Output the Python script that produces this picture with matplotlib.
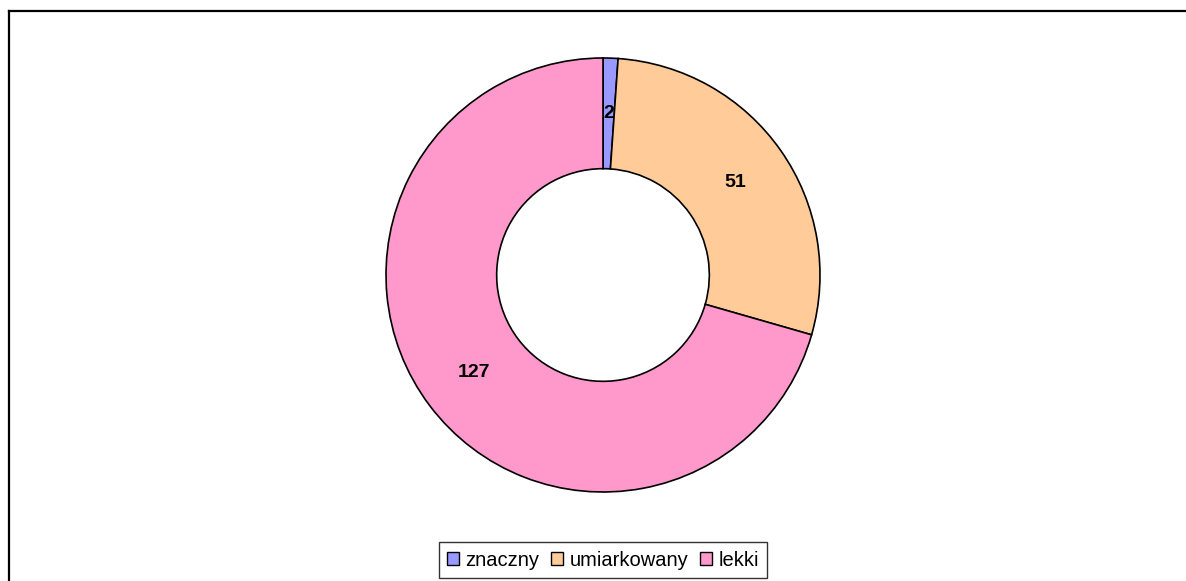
import matplotlib
matplotlib.use("Agg")
import matplotlib.pyplot as plt
from matplotlib.lines import Line2D
from matplotlib.patches import Patch
import math

plt.rcParams['font.family'] = ['Liberation Sans', 'DejaVu Sans']

categories = ["znaczny", "umiarkowany", "lekki"]
values = [2, 51, 127]
colors = ["#9999FF", "#FFCC99", "#FF99CC"]

W, H = 1186, 581
fig = plt.figure(figsize=(W / 100, H / 100), dpi=100)

cx, cy, r = 603, 275, 217
ax = fig.add_axes([(cx - r) / W, (H - cy - r) / H, 2 * r / W, 2 * r / H])
wedges, texts = ax.pie(values, colors=colors, startangle=90, counterclock=False,
                       radius=1, wedgeprops=dict(width=0.51, edgecolor="black", linewidth=1.2),
                       labels=[str(v) for v in values], labeldistance=None)
total = sum(values)
ang = 90.0
for v in values:
    span = 360.0 * v / total
    mid = math.radians(ang - span / 2)
    ax.text(0.745 * math.cos(mid), 0.745 * math.sin(mid), str(v), ha="center", va="center",
            fontsize=14, fontweight="bold", color="black")
    ang -= span
ax.set_xlim(-1, 1)
ax.set_ylim(-1, 1)
ax.set_aspect("equal")
ax.axis("off")

# outer border (left and top)
bx = 8.5 / W
by = (H - 11) / H
fig.add_artist(Line2D([bx, bx], [0, by], transform=fig.transFigure, color="black", linewidth=1.6))
fig.add_artist(Line2D([bx, 1], [by, by], transform=fig.transFigure, color="black", linewidth=1.6))

handles = [Patch(facecolor=c, edgecolor="black", linewidth=1.0) for c in colors]
leg = fig.legend(handles, categories, loc="center", bbox_to_anchor=(603 / W, (H - 560) / H),
                 ncol=3, frameon=True, fancybox=False, fontsize=14.5,
                 handlelength=0.6, handleheight=0.6, handletextpad=0.3, columnspacing=0.6,
                 borderpad=0.4, edgecolor="black")
leg.get_frame().set_linewidth(1.0)

fig.savefig("out.png", dpi=100)
